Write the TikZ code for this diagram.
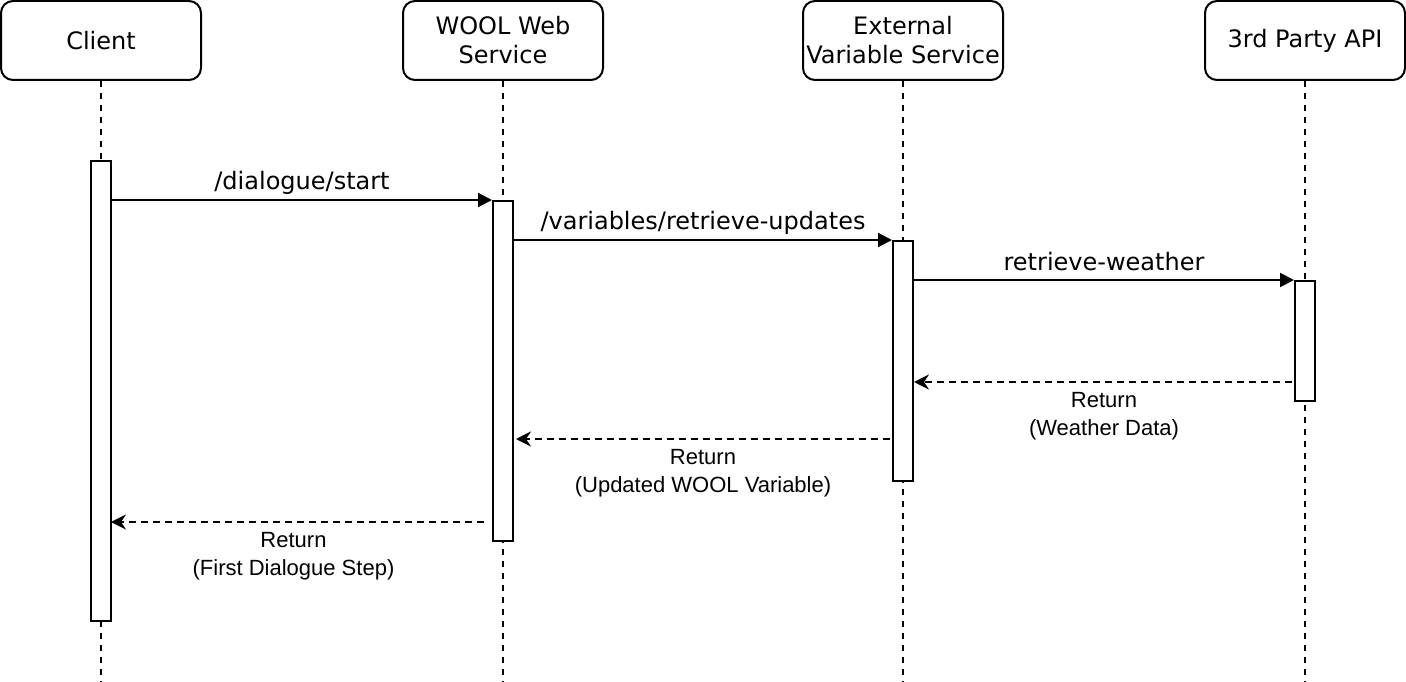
\documentclass[tikz,border=0pt]{standalone}
\usepackage{fontspec}
\newfontfamily\djfont{DejaVu Sans}
\newfontfamily\libfont{Liberation Sans}
\usetikzlibrary{arrows.meta,calc}
\begin{document}
\begin{tikzpicture}[x=1pt,y=-1pt,
  lw/.style={line width=2pt},
  header/.style={draw,lw,rounded corners=12pt,minimum width=200pt,minimum height=79pt,inner sep=0pt,align=center,font=\djfont\fontsize{24}{29}\selectfont},
  actbox/.style={draw,lw,fill=white,minimum width=20pt,inner sep=0pt},
  lifeline/.style={lw,dash pattern=on 6pt off 6pt},
  msg/.style={lw,-{Triangle[length=14pt,width=14pt]}},
  ret/.style={lw,dash pattern=on 7pt off 5pt,-{Stealth[length=15pt,width=15pt,inset=5pt]}},
  msglabel/.style={font=\djfont\fontsize{24}{29}\selectfont,inner sep=0pt},
  retlabel/.style={font=\libfont\fontsize{22}{28}\selectfont,inner sep=0pt,align=center}]
\useasboundingbox (0,0) rectangle (1406,682);
% headers
\node[header] (hC) at (101,40.5) {Client};
\node[header] (hW) at (503,40.5) {WOOL Web\\Service};
\node[header] (hE) at (903,40.5) {External\\Variable Service};
\node[header] (h3) at (1305,40.5) {3rd Party API};
% lifeline ends
\coordinate (eC) at (101,682);
\coordinate (eW) at (503,682);
\coordinate (eE) at (903,682);
\coordinate (e3) at (1305,682);
\draw[lifeline] (hC.south) -- (eC);
\draw[lifeline] (hW.south) -- (eW);
\draw[lifeline] (hE.south) -- (eE);
\draw[lifeline] (h3.south) -- (e3);
% activation boxes
\node[actbox,minimum height=460pt] (aC) at (101,391) {};
\node[actbox,minimum height=340pt] (aW) at (503,371) {};
\node[actbox,minimum height=240pt] (aE) at (903,361) {};
\node[actbox,minimum height=120pt] (a3) at (1305,341) {};
% calls
\draw[msg] (aW.north west -| aC.east) -- node[msglabel,midway,yshift=17pt] {/dialogue/start} (aW.north west);
\draw[msg] (aE.north west -| aW.east) -- node[msglabel,midway,yshift=17pt] {/variables/retrieve-updates} (aE.north west);
\draw[msg] (a3.north west -| aE.east) -- node[msglabel,midway,yshift=18pt] {retrieve-weather} (a3.north west);
% returns
\coordinate (r3) at ([xshift=-2pt,yshift=-41pt]a3.west);
\draw[ret] (r3) -- node[retlabel,midway,yshift=-34pt,xshift=1pt] {Return\\(Weather Data)} (r3 -| aE.east);
\coordinate (rE) at ([xshift=-2pt,yshift=-78pt]aE.west);
\coordinate (tW) at ([xshift=2pt]aW.east);
\draw[ret] (rE) -- node[retlabel,midway,yshift=-34pt] {Return\\(Updated WOOL Variable)} (rE -| tW);
\coordinate (rW) at ([xshift=-8pt,yshift=-151pt]aW.west);
\coordinate (tC) at ([xshift=-1pt]aC.east);
\draw[ret] (rW) -- node[retlabel,midway,yshift=-34pt,xshift=-4pt] {Return\\(First Dialogue Step)} (rW -| tC);
\end{tikzpicture}
\end{document}
